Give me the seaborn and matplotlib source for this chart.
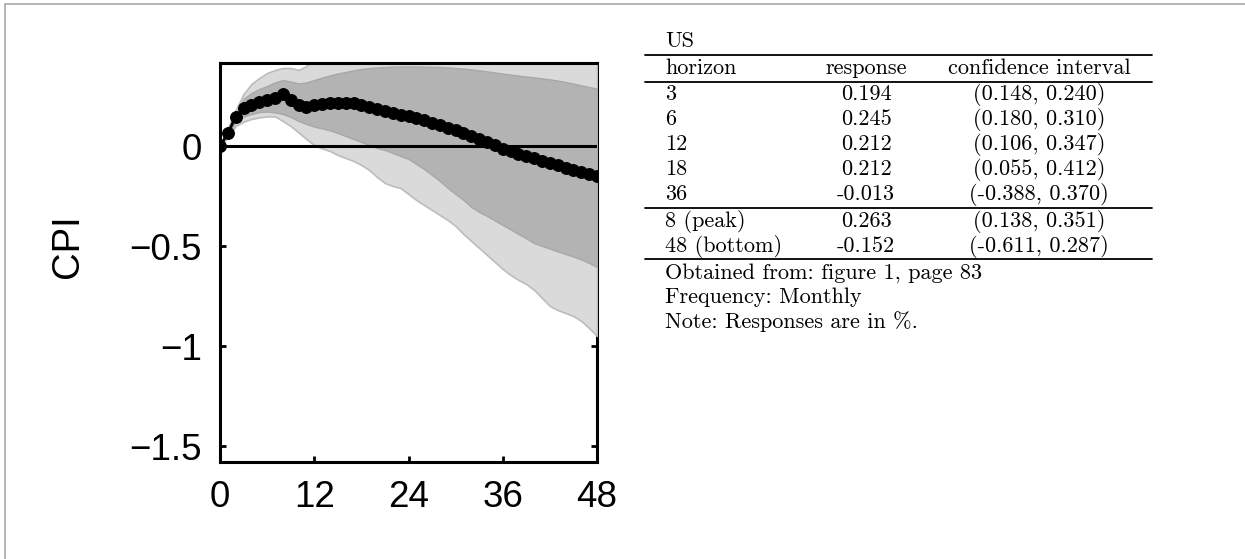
import numpy as np
import pandas as pd
import seaborn as sns
import matplotlib.pyplot as plt
from matplotlib.lines import Line2D

# impulse response of CPI, months 0..48
horizon = list(range(49))
response = [0.0, 0.063, 0.147, 0.19, 0.205, 0.222, 0.232, 0.242, 0.262, 0.23,
            0.205, 0.193, 0.205, 0.212, 0.216, 0.213, 0.216, 0.214, 0.207, 0.195,
            0.185, 0.175, 0.165, 0.157, 0.148, 0.138, 0.128, 0.117, 0.105, 0.092,
            0.079, 0.065, 0.05, 0.035, 0.02, 0.004, -0.013, -0.026, -0.038, -0.05,
            -0.062, -0.074, -0.086, -0.097, -0.108, -0.119, -0.13, -0.141, -0.152]

# inner (dark) band
inner_hi = [0.0, 0.08, 0.16, 0.235, 0.265, 0.285, 0.3, 0.318, 0.33, 0.322,
            0.313, 0.318, 0.33, 0.342, 0.353, 0.363, 0.37, 0.378, 0.385, 0.39,
            0.393, 0.395, 0.397, 0.398, 0.398, 0.398, 0.397, 0.396, 0.395, 0.393,
            0.39, 0.387, 0.383, 0.378, 0.373, 0.368, 0.362, 0.357, 0.352, 0.347,
            0.343, 0.338, 0.333, 0.327, 0.32, 0.312, 0.303, 0.295, 0.287]
inner_lo = [0.0, 0.055, 0.12, 0.148, 0.16, 0.17, 0.172, 0.168, 0.16, 0.145,
            0.125, 0.11, 0.097, 0.088, 0.078, 0.065, 0.05, 0.035, 0.02, 0.005,
            -0.01, -0.02, -0.035, -0.05, -0.065, -0.09, -0.115, -0.145, -0.175, -0.21,
            -0.24, -0.27, -0.305, -0.33, -0.35, -0.372, -0.395, -0.417, -0.44, -0.462,
            -0.485, -0.5, -0.513, -0.527, -0.54, -0.553, -0.567, -0.585, -0.605]

# outer (light) band
outer_hi = [0.0, 0.09, 0.18, 0.26, 0.31, 0.34, 0.365, 0.38, 0.39, 0.39,
            0.38, 0.4, 0.43, 0.5, 0.5, 0.5, 0.5, 0.5, 0.5, 0.5,
            0.5, 0.5, 0.5, 0.5, 0.5, 0.5, 0.5, 0.5, 0.5, 0.5,
            0.5, 0.5, 0.5, 0.5, 0.5, 0.5, 0.5, 0.5, 0.5, 0.5,
            0.5, 0.5, 0.5, 0.5, 0.5, 0.5, 0.5, 0.5, 0.5]
outer_lo = [0.0, 0.045, 0.1, 0.122, 0.135, 0.143, 0.148, 0.148, 0.125, 0.1,
            0.068, 0.035, 0.005, -0.012, -0.025, -0.045, -0.06, -0.075, -0.095, -0.12,
            -0.155, -0.185, -0.2, -0.21, -0.24, -0.27, -0.295, -0.32, -0.345, -0.37,
            -0.4, -0.44, -0.475, -0.51, -0.545, -0.58, -0.615, -0.645, -0.67, -0.69,
            -0.72, -0.76, -0.8, -0.82, -0.835, -0.85, -0.875, -0.91, -0.95]

xticks = [0, 12, 24, 36, 48]
yticks = [-1.5, -1, -0.5, 0]
ytick_labels = ["\u22121.5", "\u22121", "\u22120.5", "0"]

# table on the right
table_title = "US"
table_header = ["horizon", "response", "confidence interval"]
tab_horizon = ["3", "6", "12", "18", "36", "8 (peak)", "48 (bottom)"]
tab_response = ["0.194", "0.245", "0.212", "0.212", "-0.013", "0.263", "-0.152"]
tab_ci = ["(0.148, 0.240)", "(0.180, 0.310)", "(0.106, 0.347)", "(0.055, 0.412)",
          "(-0.388, 0.370)", "(0.138, 0.351)", "(-0.611, 0.287)"]
table_notes = ["Obtained from: figure 1, page 83", "Frequency: Monthly",
               "Note: Responses are in %."]

df = pd.DataFrame({"horizon": horizon, "response": response})

sns.set_style("white")
plt.rcParams["font.family"] = ["Liberation Sans", "DejaVu Sans"]
plt.rcParams["text.color"] = "black"

W, H = 1245, 559
fig = plt.figure(figsize=(W / 100, H / 100), dpi=100)
ax = fig.add_axes([220 / W, 1 - 462 / H, 377 / W, 399 / H])

ax.fill_between(horizon, outer_lo, outer_hi, facecolor="#dadada",
                edgecolor="#bcbcbc", linewidth=1.2, zorder=1)
ax.fill_between(horizon, inner_lo, inner_hi, facecolor="#b3b3b3",
                edgecolor="#a8a8a8", linewidth=1.0, zorder=1.1)
ax.axhline(0, color="black", linewidth=2.2, zorder=2)
sns.lineplot(data=df, x="horizon", y="response", ax=ax, color="black",
             marker="o", markersize=8.5, markeredgecolor="black",
             linewidth=2, zorder=3)

ax.set_xlim(0, 48)
ax.set_ylim(-1.58, 0.415)
ax.set_xticks(xticks)
ax.set_xticklabels([str(t) for t in xticks])
ax.set_yticks(yticks)
ax.set_yticklabels(ytick_labels)
ax.tick_params(direction="in", length=4, width=2, left=True, bottom=True,
               right=True, top=False, labelsize=26.5, pad=13, colors="black")
ax.set_xlabel("")
ax.set_ylabel("CPI", fontsize=27.5, color="black")
ax.yaxis.set_label_coords(-0.355, 0.54)
for s in ax.spines.values():
    s.set_color("black")
    s.set_linewidth(2.2)
ax.spines["right"].set_zorder(0.5)

# table drawn in figure pixels
def fx(x):
    return x / W

def fy(y):
    return 1 - y / H

serif = ["cmr10", "DejaVu Serif"]
fs = 16
col_left, col_resp, col_ci = 665, 866, 1039
fig.text(fx(col_left), fy(46.7), table_title, family=serif, fontsize=fs,
         va="baseline", ha="left")
fig.text(fx(col_left), fy(74), table_header[0], family=serif, fontsize=fs,
         va="baseline", ha="left")
fig.text(fx(col_resp), fy(74), table_header[1], family=serif, fontsize=fs,
         va="baseline", ha="center")
fig.text(fx(col_ci), fy(74), table_header[2], family=serif, fontsize=fs,
         va="baseline", ha="center")
row_base = [100, 125, 150, 175, 200, 226.7, 251.7]
for yb, h, r, c in zip(row_base, tab_horizon, tab_response, tab_ci):
    fig.text(fx(col_left), fy(yb), h, family=serif, fontsize=fs, va="baseline", ha="left")
    fig.text(fx(col_resp), fy(yb), r, family=serif, fontsize=fs, va="baseline", ha="center")
    fig.text(fx(col_ci), fy(yb), c, family=serif, fontsize=fs, va="baseline", ha="center")
for yb, note in zip([278.3, 303.3, 328.3], table_notes):
    fig.text(fx(col_left), fy(yb), note, family=serif, fontsize=fs, va="baseline", ha="left")
for yr in [55, 81.7, 208.3, 259.3]:
    fig.add_artist(Line2D([fx(645), fx(1152)], [fy(yr), fy(yr)], color="black",
                          linewidth=1.3))

# thin frame at the top-left of the image
fig.add_artist(Line2D([fx(5), fx(5)], [fy(4), fy(559)], color="#aaaaaa", linewidth=1.2))
fig.add_artist(Line2D([fx(5), fx(1245)], [fy(4), fy(4)], color="#aaaaaa", linewidth=1.2))

fig.savefig("out.png", dpi=100)
